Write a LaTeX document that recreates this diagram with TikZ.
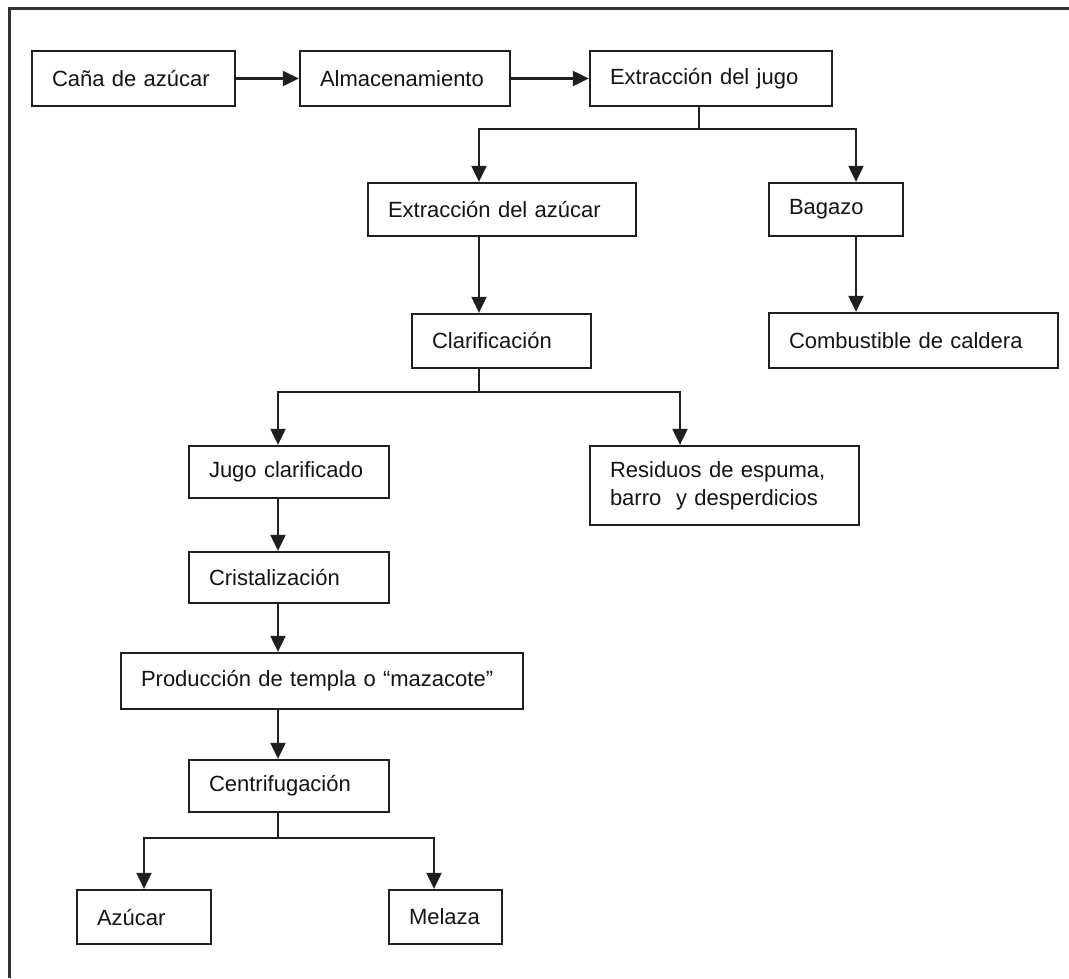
\documentclass[tikz,border=0pt]{standalone}
\usepackage{fontspec}
\setmainfont{Liberation Sans}
\usetikzlibrary{arrows.meta}
\begin{document}
\begin{tikzpicture}[x=1pt,y=-1pt,
  blk/.style={draw=black!88, line width=2.3pt, fill=white, rectangle,
    inner xsep=20pt, inner ysep=0pt, align=left,
    font=\fontsize{22}{28}\selectfont, text=black!92},
  ln/.style={draw=black!88, line width=2.1pt},
  arr/.style={ln, -{Triangle[width=15pt,length=16pt]}},
  frame/.style={draw=black!80, line width=3pt}]
\useasboundingbox (0,0) rectangle (1069,978);

% outer frame (top and left edges)
\draw[frame] (1069,8) -- (9,8) -- (9,978);

% process boxes: text width = box width - 40
\node[blk, text width=163pt, minimum height=55pt] (cana) at (133.5,78.5) {Caña de azúcar};
\node[blk, text width=170pt, minimum height=55pt] (alma) at (405,78.5) {Almacenamiento};
\node[blk, text width=202pt, minimum height=55pt] (jugo) at (711,78.5) {Extracción del jugo};
\node[blk, text width=228pt, minimum height=53pt] (eaz) at (502,209.5) {Extracción del azúcar};
\node[blk, text width=94pt, minimum height=53pt] (bag) at (836,209.5) {Bagazo};
\node[blk, text width=139pt, minimum height=54pt] (clar) at (501.5,341) {Clarificación};
\node[blk, text width=249pt, minimum height=55pt] (comb) at (913.5,340.5) {Combustible de caldera};
\node[blk, text width=160pt, minimum height=52pt] (jc) at (289,472) {Jugo clarificado};
\node[blk, text width=229pt, minimum height=79pt] (res) at (724.5,485.5) {Residuos de espuma,\\barro~ y desperdicios};
\node[blk, text width=160pt, minimum height=51pt] (cri) at (289,577.5) {Cristalización};
\node[blk, text width=362pt, minimum height=56pt] (prod) at (322,681) {Producción de templa o “mazacote”};
\node[blk, text width=160pt, minimum height=52pt] (cen) at (289,786) {Centrifugación};
\node[blk, text width=94pt, minimum height=54pt] (azu) at (144,917) {Azúcar};
\node[blk, text width=73pt, minimum height=54pt] (mel) at (445.5,917) {Melaza};

% junction and branch points
\coordinate (j1) at (699,129);
\coordinate (b1a) at (479,129);
\coordinate (b1b) at (856,129);
\coordinate (j2) at (479,392);
\coordinate (b2a) at (278,392);
\coordinate (b2b) at (680,392);
\coordinate (j3) at (278,838);
\coordinate (b3a) at (144,838);
\coordinate (b3b) at (434,838);

% top row
\draw[arr] (cana) -- (alma);
\draw[arr] (alma) -- (jugo);

% split after juice extraction
\draw[ln] (jugo.south -| j1) -- (j1);
\draw[arr] (j1) -- (b1a) -- (eaz.north -| b1a);
\draw[arr] (j1) -- (b1b) -- (bag.north -| b1b);
\draw[arr] (bag.south -| b1b) -- (comb.north -| b1b);
\draw[arr] (eaz.south -| b1a) -- (clar.north -| b1a);

% split after clarification
\draw[ln] (clar.south -| j2) -- (j2);
\draw[arr] (j2) -- (b2a) -- (jc.north -| b2a);
\draw[arr] (j2) -- (b2b) -- (res.north -| b2b);

% main line
\draw[arr] (jc.south -| b2a) -- (cri.north -| b2a);
\draw[arr] (cri.south -| b2a) -- (prod.north -| b2a);
\draw[arr] (prod.south -| b2a) -- (cen.north -| b2a);

% split after centrifugation
\draw[ln] (cen.south -| j3) -- (j3);
\draw[arr] (j3) -- (b3a) -- (azu.north -| b3a);
\draw[arr] (j3) -- (b3b) -- (mel.north -| b3b);
\end{tikzpicture}
\end{document}
